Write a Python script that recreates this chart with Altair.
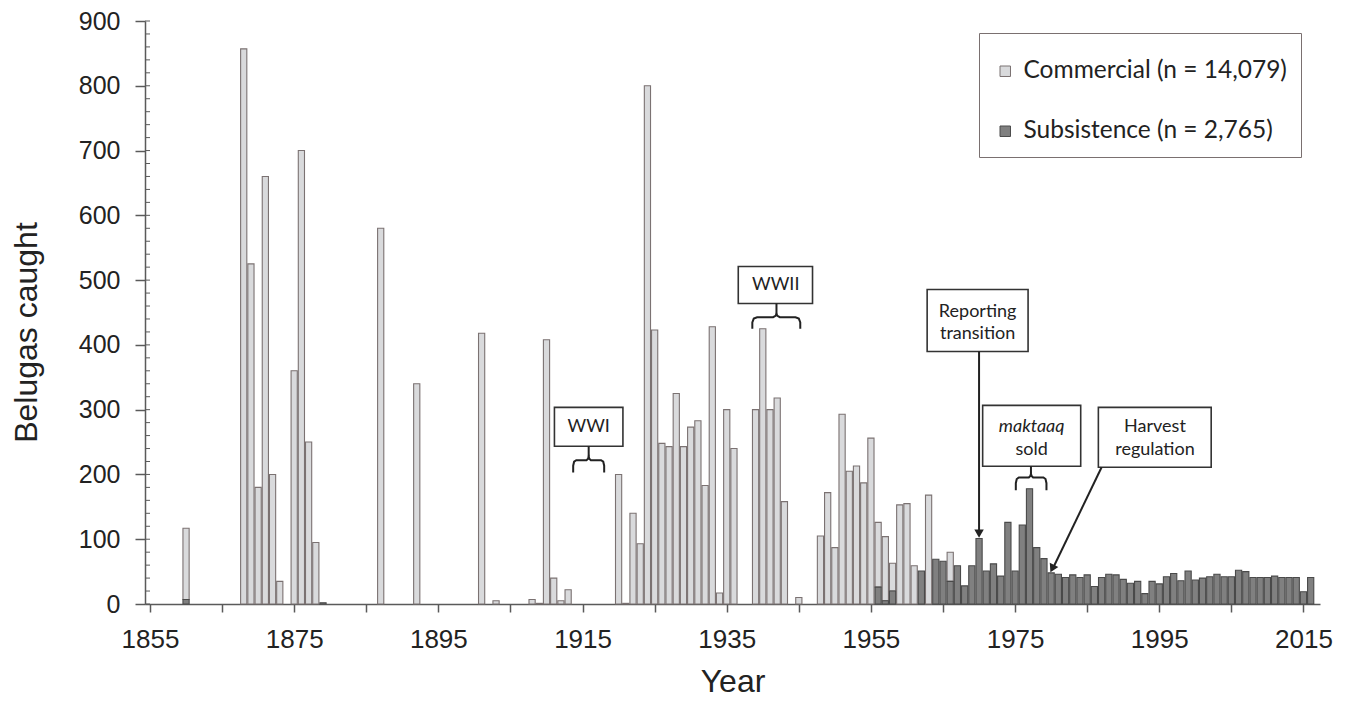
import altair as alt
import pandas as pd

# ---------------- data ----------------
comm_years = [1860, 1868, 1869, 1870, 1871, 1872, 1873, 1875, 1876, 1877, 1878,
              1887, 1892, 1901, 1903, 1908, 1909, 1910, 1911, 1912, 1913,
              1920, 1921, 1922, 1923, 1924, 1925, 1926, 1927, 1928, 1929, 1930,
              1931, 1932, 1933, 1934, 1935, 1936, 1939, 1940, 1941, 1942, 1943,
              1945, 1948, 1949, 1950, 1951, 1952, 1953, 1954, 1955, 1956, 1957,
              1958, 1959, 1960, 1961, 1963, 1966]
comm_vals = [110, 857, 525, 180, 660, 200, 35, 360, 700, 250, 95,
             580, 340, 418, 5, 7, 1, 408, 40, 5, 22,
             200, 1, 140, 93, 800, 423, 248, 243, 325, 243, 273,
             283, 183, 428, 17, 300, 240, 300, 425, 300, 318, 158,
             10, 105, 172, 87, 293, 205, 213, 187, 256, 100, 99,
             43, 153, 155, 59, 168, 45]

sub_years = [1860, 1879, 1956, 1957, 1958, 1962, 1964, 1965, 1966, 1967, 1968,
             1969, 1970, 1971, 1972, 1973, 1974, 1975, 1976, 1977, 1978, 1979,
             1980, 1981, 1982, 1983, 1984, 1985, 1986, 1987, 1988, 1989, 1990,
             1991, 1992, 1993, 1994, 1995, 1996, 1997, 1998, 1999, 2000, 2001,
             2002, 2003, 2004, 2005, 2006, 2007, 2008, 2009, 2010, 2011, 2012,
             2013, 2014, 2015, 2016]
sub_vals = [7, 2, 26, 5, 20, 51, 69, 66, 35, 59, 28,
            59, 101, 51, 62, 43, 126, 51, 122, 178, 87, 70,
            48, 46, 41, 45, 41, 45, 27, 41, 46, 45, 38,
            32, 35, 16, 35, 31, 42, 47, 36, 51, 37, 40,
            42, 46, 42, 42, 52, 50, 41, 41, 41, 43, 41,
            41, 41, 19, 41]

COMM = "Commercial (n = 14,079)"
SUB = "Subsistence (n = 2,765)"
x_ticks = list(range(1855, 2016, 10))
y_ticks = list(range(0, 901, 100))
y_minor = list(range(0, 901, 20))

# annotations (data space: year, belugas)
ann_boxes = pd.DataFrame({
    "year": [1911.1, 1936.6, 1962.8, 1970.5, 1986.55],
    "year2": [1920.6, 1946.9, 1976.8, 1984.1, 2002.2],
    "count": [243.5, 463.8, 389.9, 212.7, 211.1],
    "count2": [303.6, 520.9, 485.4, 306.7, 303.6],
})
ann_text = pd.DataFrame({
    "year": [1915.85, 1941.8, 1969.8, 1969.8, 1977.3, 1994.4, 1994.4],
    "count": [273.5, 492.0, 450.4, 417.2, 237.3, 273.4, 237.3],
    "label": ["WWI", "WWII", "Reporting", "transition", "sold", "Harvest", "regulation"],
})
ann_italic = pd.DataFrame({"year": [1977.3], "count": [273.4], "label": ["maktaaq"]})

# braces: (x0, x1, xc, y_end, y_bar, y_stem_top)
braces = [
    (1913.7, 1918.0, 1915.85, 203.0, 222.0, 243.5),
    (1938.55, 1945.2, 1941.9, 425.0, 442.7, 463.8),
    (1975.1, 1979.35, 1977.2, 175.6, 195.3, 212.7),
]

# ---------------- build tables ----------------
bars_df = pd.DataFrame(
    [{"year": y, "count": v, "type": COMM, "ord": 1} for y, v in zip(comm_years, comm_vals)]
    + [{"year": y, "count": v, "type": SUB, "ord": 0} for y, v in zip(sub_years, sub_vals)]
)

brace_rows = []
stem_rows = []
for g, (x0, x1, xc, yb, yh, ys) in enumerate(braces):
    w = x1 - x0
    d = yh - yb
    pts = [(x0, yb), (x0, yh - 0.45 * d), (x0 + 0.03 * w, yh - 0.12 * d), (x0 + 0.1 * w, yh),
           (xc - 0.07 * w, yh), (xc - 0.02 * w, yh + 0.12 * d), (xc, yh + 0.3 * d),
           (xc + 0.02 * w, yh + 0.12 * d), (xc + 0.07 * w, yh),
           (x1 - 0.1 * w, yh), (x1 - 0.03 * w, yh - 0.12 * d), (x1, yh - 0.45 * d), (x1, yb)]
    for i, (px, py) in enumerate(pts):
        brace_rows.append({"year": px, "count": py, "g": g, "i": i})
    stem_rows.append({"year": xc, "count": yh + 0.3 * d, "year2": xc, "count2": ys})
brace_df = pd.DataFrame(brace_rows)

arrow_lines = pd.DataFrame({
    "year": [1970.0, 1987.0],
    "count": [389.9, 211.1],
    "year2": [1970.0, 1980.2],
    "count2": [112.0, 54.0],
})
stem_df = pd.concat([pd.DataFrame(stem_rows), arrow_lines], ignore_index=True)
heads = pd.DataFrame({"year": [1970.0, 1980.15], "count": [108.5, 54.7], "ang": [0, 26]})
minor_df = pd.DataFrame({"count": y_minor})

# ---------------- encodings ----------------
x_scale = alt.Scale(domain=[1855, 2016.6], nice=False, zero=False)
y_scale = alt.Scale(domain=[0, 900], nice=False)
FONT = "Liberation Sans"
ANN_FONT = "Lato"
INK = "#222222"
AX = "#5a5a5a"


def X(**kw):
    return alt.X("year:Q", scale=x_scale, title="Year", **kw)


def Y(**kw):
    return alt.Y("count:Q", scale=y_scale, title="Belugas caught", **kw)


bars = alt.Chart(bars_df).mark_bar(width=6.2, strokeWidth=1.1).encode(
    x=X(axis=alt.Axis(
        values=x_ticks, format="d",
        labelExpr="(datum.value - 1855) % 20 == 0 ? datum.label : ''",
        tickSize=8, labelPadding=14, labelFontSize=26, labelFont=FONT, labelColor=INK,
        titleFontSize=32, titleFont=FONT, titleFontWeight="normal", titleColor=INK,
        titlePadding=14, domainColor=AX, domainWidth=1.5, tickColor=AX, tickWidth=1.5,
        grid=False, labelOverlap=False)),
    y=Y(stack="zero", axis=alt.Axis(
        values=y_ticks, tickSize=10, labelPadding=15, labelFontSize=25, labelFont=FONT,
        labelColor=INK, titleFontSize=32, titleFont=FONT, titleFontWeight="normal",
        titleColor=INK, titleX=-119, titleY=311, titleAngle=270, titleBaseline="middle",
        titleAlign="center", domainColor=AX, domainWidth=1.5, tickColor=AX, tickWidth=1.5,
        grid=False)),
    color=alt.Color("type:N", scale=alt.Scale(domain=[COMM, SUB], range=["#d9dadc", "#808080"]),
                    legend=alt.Legend(
                        title=" ", titleFontSize=2, titlePadding=10,
                        orient="none", legendX=834, legendY=12,
                        symbolType="square", symbolSize=110, symbolStrokeColor="#6e6e6e",
                        symbolStrokeWidth=1, labelFont=ANN_FONT, labelFontSize=24.5,
                        labelColor=INK, labelOffset=6, rowPadding=35, padding=14,
                        strokeColor="#7a7070", fillColor="white", labelLimit=400)),
    stroke=alt.Stroke("type:N", scale=alt.Scale(domain=[COMM, SUB], range=["#7b7272", "#4a4a4a"]),
                      legend=None),
    order=alt.Order("ord:Q"),
)

minor = alt.Chart(minor_df).mark_rule(color=AX, strokeWidth=1).encode(
    y=alt.Y("count:Q", scale=y_scale, title="Belugas caught"),
    x=alt.value(0), x2=alt.value(5),
)

boxes = alt.Chart(ann_boxes).mark_rect(fill="white", stroke="#333333", strokeWidth=1.6).encode(
    x=X(), x2="year2:Q", y=Y(), y2="count2:Q")

texts = alt.Chart(ann_text).mark_text(font=ANN_FONT, fontSize=18, color=INK).encode(
    x=X(), y=Y(), text="label:N")

italic = alt.Chart(ann_italic).mark_text(font=ANN_FONT, fontSize=18, fontStyle="italic",
                                         color=INK).encode(x=X(), y=Y(), text="label:N")

brace_lines = alt.Chart(brace_df).mark_line(color=INK, strokeWidth=2, interpolate="linear").encode(
    x=X(), y=Y(), detail="g:N", order="i:Q")

stems = alt.Chart(stem_df).mark_rule(color=INK, strokeWidth=2).encode(
    x=X(), x2="year2:Q", y=Y(), y2="count2:Q")

arrowheads = alt.Chart(heads).mark_point(shape="triangle-down", size=90, filled=True,
                                         color=INK, opacity=1).encode(
    x=X(), y=Y(), angle=alt.Angle("ang:Q", scale=None))

chart = alt.layer(bars, minor, boxes, texts, italic, brace_lines, stems, arrowheads).properties(
    width=1175, height=583,
    autosize=alt.AutoSizeParams(type="none"),
    padding={"left": 137, "top": 13, "right": 25, "bottom": 95},
    background="white",
).configure_view(stroke=None)

chart.save("out.html", embed_options={"renderer": "svg", "actions": False})
